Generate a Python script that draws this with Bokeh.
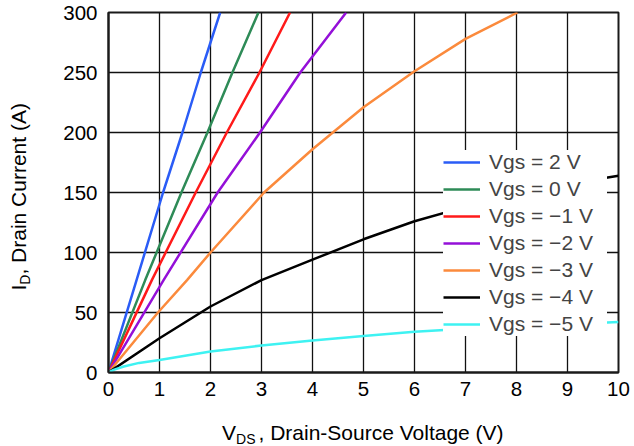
from math import pi
from bokeh.plotting import figure
from bokeh.models import Range1d, Label, Legend, LegendItem
from bokeh.embed import file_html
from bokeh.resources import INLINE

FONT = "Liberation Sans"

# ---- data ----
x_ticks = [0, 1, 2, 3, 4, 5, 6, 7, 8, 9, 10]
y_ticks = [0, 50, 100, 150, 200, 250, 300]

series_labels = ["Vgs = 2 V", "Vgs = 0 V", "Vgs = \u22121 V", "Vgs = \u22122 V",
                 "Vgs = \u22123 V", "Vgs = \u22124 V", "Vgs = \u22125 V"]
series_colors = ["#2a5cf6", "#2e8b57", "#ff1a1a", "#9410d8", "#fb8a3c", "#000000", "#3ef2f2"]

vds_p2 = [0, 0.55, 1.07, 1.45, 1.81, 2.19]
id_p2 = [0, 77, 150, 200, 250, 300]
vds_0 = [0, 0.72, 1.43, 1.94, 2.43, 2.94]
id_0 = [0, 77, 150, 200, 250, 300]
vds_m1 = [0, 0.85, 1.71, 2.32, 2.96, 3.56]
id_m1 = [0, 77, 150, 200, 250, 300]
vds_m2 = [0, 1.08, 2.14, 2.97, 3.76, 4.66]
id_m2 = [0, 77, 150, 200, 250, 300]
vds_m3 = [0, 0.97, 1.54, 2.0, 3.05, 4.0, 5.0, 6.0, 7.0, 8.02]
id_m3 = [0, 50, 77, 100, 150, 186, 221, 251, 278, 300]
vds_m4 = [0, 1.0, 2.0, 3.0, 4.0, 5.0, 6.0, 7.0, 8.0, 9.0, 10.0]
id_m4 = [0, 28.5, 55, 77, 94, 111, 126, 138, 149, 157, 164]
vds_m5 = [0, 0.1, 0.3, 0.6, 1.0, 2.0, 3.0, 4.0, 5.0, 6.0, 7.0, 8.0, 9.0, 10.0]
id_m5 = [0, 2.2, 5, 8, 10.5, 17.5, 22.5, 26.7, 30.4, 34, 36.5, 38.5, 40.3, 42]

series_x = [vds_p2, vds_0, vds_m1, vds_m2, vds_m3, vds_m4, vds_m5]
series_y = [id_p2, id_0, id_m1, id_m2, id_m3, id_m4, id_m5]

# ---- figure ----
p = figure(width=634, height=446, output_backend="svg", toolbar_location=None,
           x_range=Range1d(0, 10), y_range=Range1d(0, 300),
           min_border_left=108, min_border_right=16, min_border_top=12, min_border_bottom=74)
p.background_fill_color = "white"
p.border_fill_color = "white"
p.outline_line_color = "#1a1a1a"
p.outline_line_width = 2
p.outline_line_alpha = 1

for ax, ticks, standoff in ((p.xaxis, x_ticks, 9), (p.yaxis, y_ticks, 11)):
    ax.ticker = ticks
    ax.major_tick_out = 0
    ax.major_tick_in = 0
    ax.minor_tick_out = 0
    ax.minor_tick_in = 0
    ax.axis_line_color = "#1a1a1a"
    ax.axis_line_width = 2
    ax.major_label_text_font = FONT
    ax.major_label_text_font_size = "20.5px"
    ax.major_label_text_color = "black"
    ax.major_label_standoff = standoff

for g in (p.xgrid, p.ygrid):
    g.grid_line_color = "#111111"
    g.grid_line_width = 1.3
    g.grid_line_alpha = 1

items = []
for xs, ys, lab, col in zip(series_x, series_y, series_labels, series_colors):
    r = p.line(xs, ys, line_color=col, line_width=2.5)
    items.append(LegendItem(label=lab, renderers=[r]))

legend = Legend(items=items, location=(335, 36), margin=0, padding=2,
                spacing=3, glyph_width=37, glyph_height=20, label_height=20,
                label_width=118, label_standoff=9,
                label_text_font=FONT, label_text_font_size="21px",
                border_line_color=None, background_fill_color="white",
                background_fill_alpha=1)
p.add_layout(legend)

# ---- axis titles with subscripts (absolute canvas positions) ----
TF = "21px"
SF = "14px"
def lab(x, y, text, size, angle=0):
    return Label(x=x, y=y, x_units="canvas", y_units="canvas", text=text,
                 text_font=FONT, text_font_size=size, text_color="black",
                 text_align="left", text_baseline="middle", angle=angle)

# y title: I_D, Drain Current (A)
p.add_layout(lab(17.7, 274.1, ", Drain Current (A)", TF, pi / 2), "left")
p.add_layout(lab(17.7, 290, "I", TF, pi / 2), "left")
p.add_layout(lab(221.6, 432.2, "V", TF), "left")
# x title: V_DS, Drain-Source Voltage (V)
p.add_layout(lab(258, 432.2, ", Drain-Source Voltage (V)", TF), "below")
p.add_layout(lab(235.6, 438.6, "DS", SF), "below")
p.add_layout(lab(24.2, 284.2, "D", SF, pi / 2), "right")

open("out.html", "w").write(file_html(p, INLINE))
